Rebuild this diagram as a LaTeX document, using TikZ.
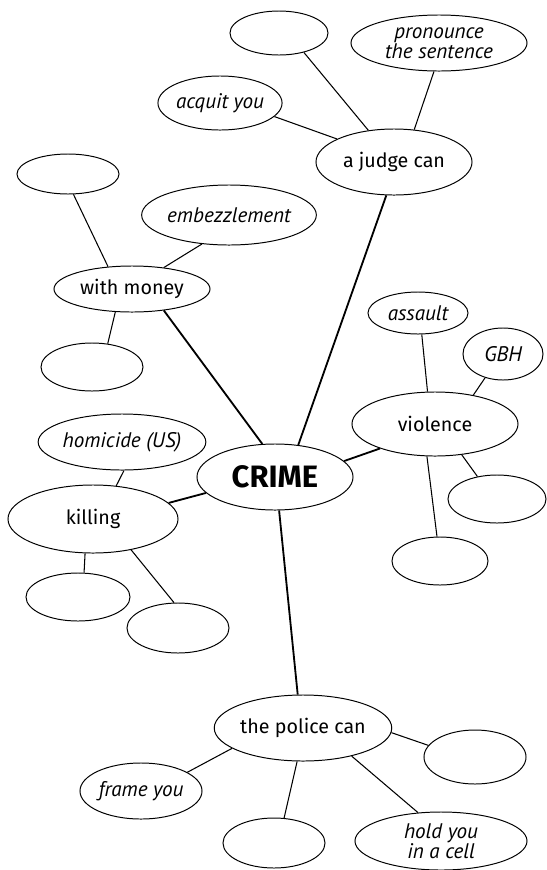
\documentclass[tikz,border=0pt]{standalone}
\usepackage{fontspec}
\setmainfont{Fira Sans}
\newfontfamily\handfont{PT Sans}
\usetikzlibrary{shapes.geometric}

\tikzset{
  blob/.style 2 args={ellipse,draw,line width=0.7pt,inner sep=0pt,minimum width=#1*0.05cm,minimum height=#2*0.05cm},
  hub/.style={font=\fontsize{14}{16}\selectfont},
  leaf/.style={font=\handfont\itshape\fontsize{15}{14}\selectfont,align=center},
  trunk/.style={line width=1.3pt},
  twig/.style={line width=0.75pt}
}

\begin{document}
\begin{tikzpicture}[x=0.025cm,y=-0.025cm]
  \useasboundingbox (0,0) rectangle (547,870);
  % centre and the five branches
  \node[blob={78}{33},font=\fontsize{22}{24}\selectfont\bfseries] (crime) at (275,477) {CRIME};
  \node[blob={78}{33},hub] (judge) at (394,162) {a judge can};
  \node[blob={78}{23},hub] (money) at (132,289) {with money};
  \node[blob={83}{32},hub] (violence) at (435,424) {violence};
  \node[blob={85}{34},hub] (killing) at (93,519) {killing};
  \node[blob={84}{33},hub] (police) at (303,728) {the police can};
  % a judge can
  \node[blob={49}{22}] (judgeA) at (279,33) {};
  \node[blob={88}{28},leaf] (sentence) at (439,43) {pronounce\\the sentence};
  \node[blob={61}{27},leaf] (acquit) at (220,103) {acquit you};
  % with money
  \node[blob={51}{20}] (moneyA) at (68,174) {};
  \node[blob={86}{30},leaf] (embezzle) at (229,215) {embezzlement};
  \node[blob={51}{24}] (moneyB) at (92,367) {};
  % violence
  \node[blob={50}{21},leaf] (assault) at (418,313) {assault};
  \node[blob={40}{26},leaf] (gbh) at (503,354) {GBH};
  \node[blob={49}{24}] (violA) at (497,499) {};
  \node[blob={48}{24}] (violB) at (440,561) {};
  % killing
  \node[blob={75}{28},leaf] (homicide) at (122,442) {homicide (US)};
  \node[blob={52}{24}] (killA) at (78,597) {};
  \node[blob={51}{25}] (killB) at (178,628) {};
  % the police can
  \node[blob={61}{28},leaf] (frame) at (141,791) {frame you};
  \node[blob={51}{25}] (policeA) at (274,843) {};
  \node[blob={86}{29},leaf] (hold) at (441,841) {hold you\\in a cell};
  \node[blob={51}{27}] (policeB) at (475,757) {};

  \draw[trunk] (crime.54) -- (judge.257);
  \draw[trunk] (crime.111) -- (money.326);
  \draw[trunk] (crime.13) -- (violence.204);
  \draw[trunk] (crime.193) -- (killing.12);
  \draw[trunk] (crime.277) -- (police.99);

  \draw[twig] (judgeA.322) -- (judge.129);
  \draw[twig] (sentence.260) -- (judge.58);
  \draw[twig] (acquit.346) -- (judge.158);
  \draw[twig] (moneyA.285) -- (money.137);
  \draw[twig] (embezzle.227) -- (money.34);
  \draw[twig] (money.234) -- (moneyB.56);
  \draw[twig] (assault.280) -- (violence.103);
  \draw[twig] (gbh.233) -- (violence.37);
  \draw[twig] (violence.311) -- (violA.131);
  \draw[twig] (violence.256) -- (violB.97);
  \draw[twig] (homicide.274) -- (killing.55);
  \draw[twig] (killing.257) -- (killA.76);
  \draw[twig] (killing.321) -- (killB.99);
  \draw[twig] (police.196) -- (frame.22);
  \draw[twig] (police.260) -- (policeA.68);
  \draw[twig] (police.330) -- (hold.129);
  \draw[twig] (police.357) -- (policeB.166);
\end{tikzpicture}
\end{document}
